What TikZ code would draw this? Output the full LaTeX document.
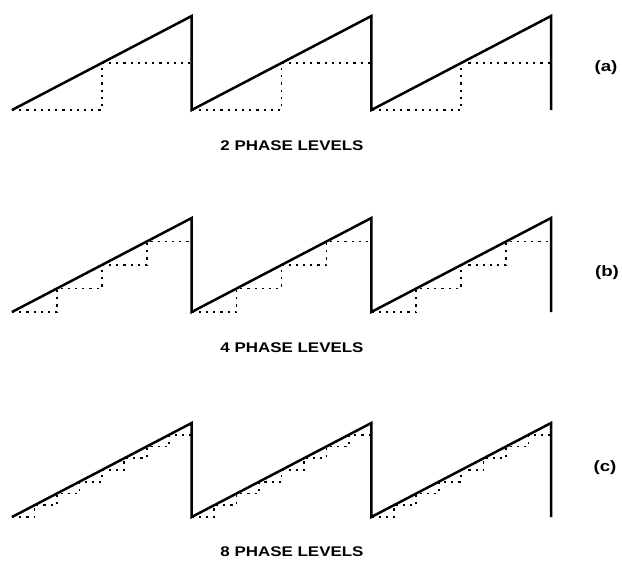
\documentclass[tikz,border=0pt]{standalone}
\usepackage{fontspec}
\setmainfont{Liberation Sans}
\begin{document}
\begin{tikzpicture}[x=1pt,y=-1pt,
  saw/.style={line width=2.5pt,line join=miter,line cap=butt},
  stair/.style={line width=1.7pt,dash pattern=on 2.2pt off 5pt},
  lvl/.style={font=\bfseries\fontsize{14}{14}\selectfont,inner sep=0pt},
  tag/.style={font=\bfseries\fontsize{15}{15}\selectfont,inner sep=0pt}]
\useasboundingbox (0,0) rectangle (622,562);
\def\xo{12}
\def\T{179.67}
\def\H{94}
\foreach \base/\N in {110/2, 312/4, 517/8} {
  \foreach \p in {0,1,2} {
    \pgfmathsetmacro\xs{\xo+\p*\T}
    \draw[stair] (\xs,\base) \foreach \k in {1,...,\N} { -- ++(\T/\N,0) -- ++(0,-\H/\N) };
  }
  \draw[saw] (\xo,\base) -- ++(\T,-\H) -- ++(0,\H) -- ++(\T,-\H) -- ++(0,\H) -- ++(\T,-\H) -- ++(0,\H);
}
\node[tag] (taga) at (606,68) {\scalebox{1.25}[1]{(a)}};
\node[tag] (tagb) at (607,273) {\scalebox{1.25}[1]{(b)}};
\node[tag] (tagc) at (605,468) {\scalebox{1.25}[1]{(c)}};
\node[lvl] (lvla) at (292,146) {\scalebox{1.21}[1]{2 PHASE LEVELS}};
\node[lvl] (lvlb) at (292,348) {\scalebox{1.21}[1]{4 PHASE LEVELS}};
\node[lvl] (lvlc) at (292,552) {\scalebox{1.21}[1]{8 PHASE LEVELS}};
\end{tikzpicture}
\end{document}
